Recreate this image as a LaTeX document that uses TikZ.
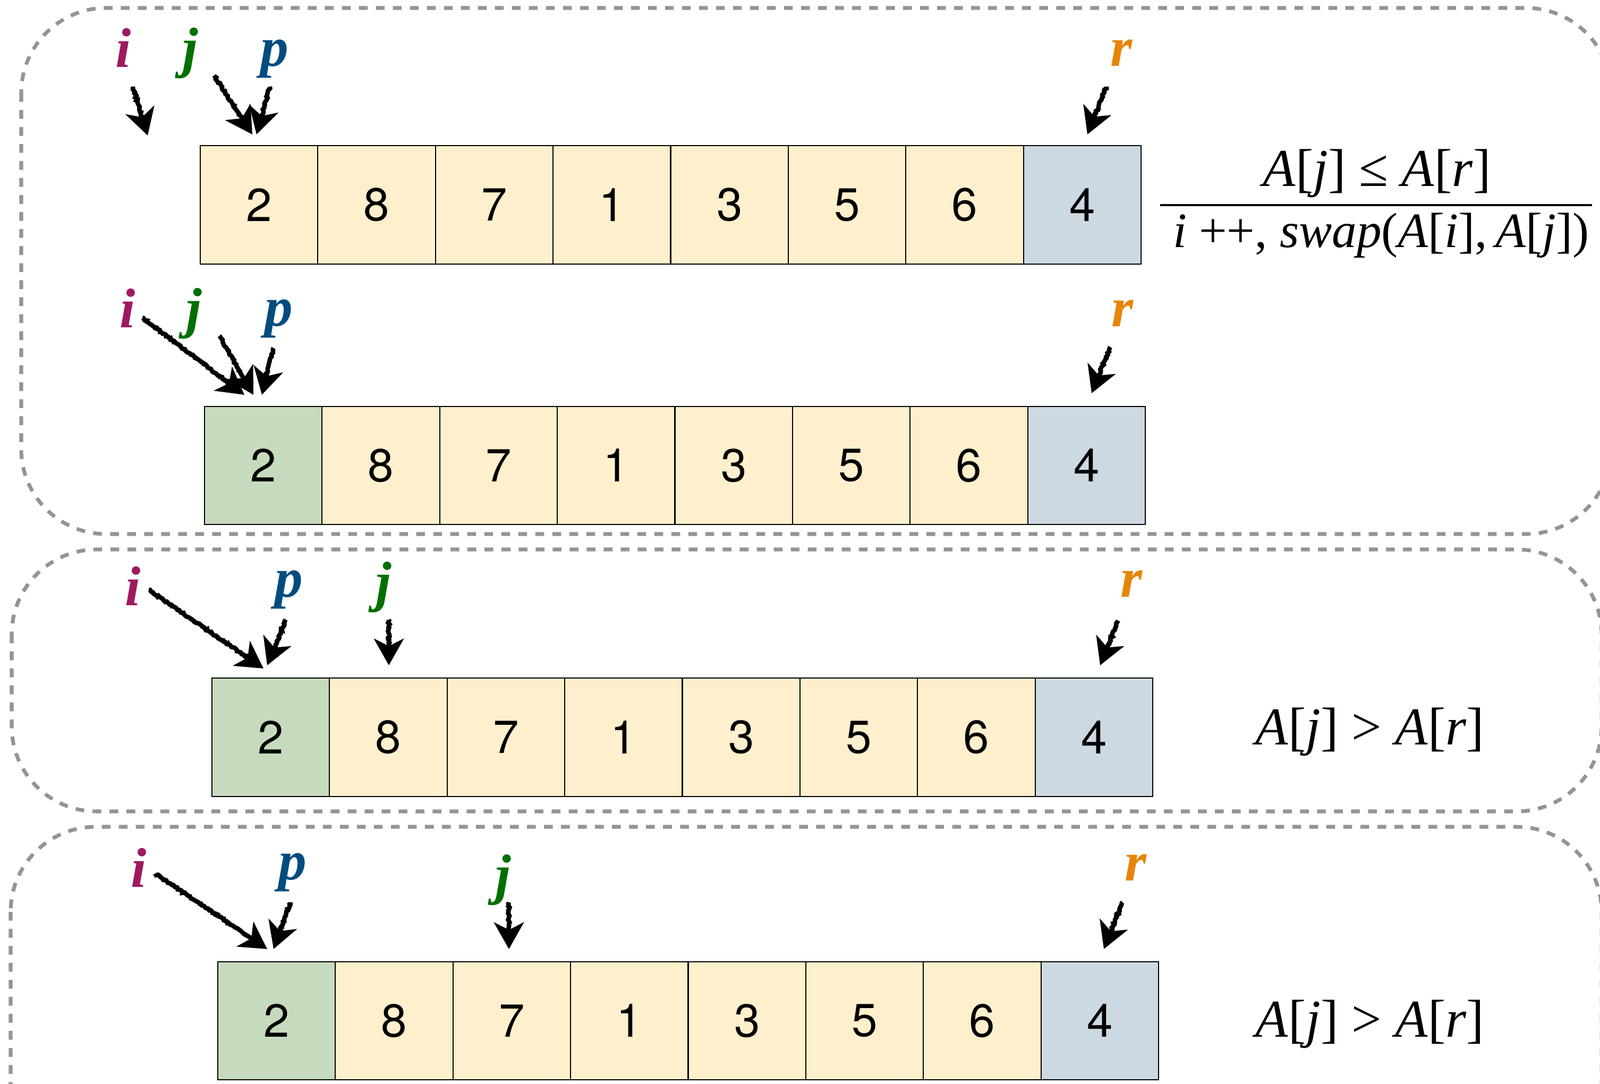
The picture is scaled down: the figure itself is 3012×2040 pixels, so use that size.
\documentclass[tikz,border=0pt]{standalone}
\usepackage{fontspec}
\setmainfont{Liberation Serif}
\newfontfamily\numfont{TeX Gyre Heros}
\usetikzlibrary{arrows.meta,decorations.pathmorphing}
\definecolor{yel}{HTML}{FEF0CD}
\definecolor{grn}{HTML}{C6DBBE}
\definecolor{blu}{HTML}{CDD9E2}
\definecolor{boxgray}{HTML}{949494}
\definecolor{ci}{HTML}{9E1A60}
\definecolor{cj}{HTML}{007000}
\definecolor{cp}{HTML}{004C7F}
\definecolor{cr}{HTML}{E5860A}
\begin{document}
\begin{tikzpicture}[x=0.01cm,y=-0.01cm,
  cell/.style={draw=black, line width=0.6pt, minimum width=2.214cm, minimum height=2.22cm, inner sep=0pt, font=\numfont\fontsize{24.8}{30}\selectfont},
  lbl/.style={inner sep=0pt, font=\fontsize{30}{36}\selectfont\bfseries\itshape},
  frame/.style={draw=boxgray, line width=2pt, dash pattern=on 0.165cm off 0.155cm, rounded corners=1.6cm},
  ptr/.style={draw=black, line width=2.4pt, -{Stealth[length=0.5cm,width=0.56cm,inset=0.14cm]}, decorate, decoration={random steps, segment length=0.8pt, amplitude=0.45pt, post length=0.35cm}},
  eq/.style={inner sep=0pt, font=\fontsize{28.5}{34}\selectfont},
  eqs/.style={inner sep=0pt, font=\fontsize{26.5}{32}\selectfont}]
\useasboundingbox (0,0) rectangle (3012,2040);
\clip (0,0) rectangle (3012,2040);

% dashed frames
\draw[frame] (40,15) rectangle (3033,1005);
\draw[frame] (22,1034) rectangle (3015,1527);
\draw[frame] (20,1556) rectangle (3015,2200);

% arrays
\foreach \v/\f [count=\k from 0] in {2/yel,8/yel,7/yel,1/yel,3/yel,5/yel,6/yel,4/blu}
  \node[cell, fill=\f] (a\k) at ({377+221.4*(\k+0.5)},385.5) {\v};
\foreach \v/\f [count=\k from 0] in {2/grn,8/yel,7/yel,1/yel,3/yel,5/yel,6/yel,4/blu}
  \node[cell, fill=\f] (b\k) at ({385+221.4*(\k+0.5)},876) {\v};
\foreach \v/\f [count=\k from 0] in {2/grn,8/yel,7/yel,1/yel,3/yel,5/yel,6/yel,4/blu}
  \node[cell, fill=\f] (c\k) at ({399+221.4*(\k+0.5)},1387.5) {\v};
\foreach \v/\f [count=\k from 0] in {2/grn,8/yel,7/yel,1/yel,3/yel,5/yel,6/yel,4/blu}
  \node[cell, fill=\f] (d\k) at ({410+221.4*(\k+0.5)},1921) {\v};

% row 1 labels and pointers
\node[lbl, text=ci] (i1) at (232,90) {i};
\node[lbl, text=cj] (j1) at (358,100) {j};
\node[lbl, text=cp] (p1) at (517,111) {p};
\node[lbl, text=cr] (r1) at (2111,100) {r};
\coordinate (si1) at (250,163); \coordinate (ti1) at (278,255);
\coordinate (sj1) at (403,142); \coordinate (tj1) at (475,253);
\coordinate (sp1) at (508,163); \coordinate (tp1) at (483,253);
\coordinate (sr1) at (2083,163); \coordinate (tr1) at (2047,253);
\draw[ptr] (si1) -- (ti1);
\draw[ptr] (sj1) -- (tj1);
\draw[ptr] (sp1) -- (tp1);
\draw[ptr] (sr1) -- (tr1);

% row 2
\node[lbl, text=ci] (i2) at (240,580) {i};
\node[lbl, text=cj] (j2) at (365,590) {j};
\node[lbl, text=cp] (p2) at (525,600) {p};
\node[lbl, text=cr] (r2) at (2113,590) {r};
\coordinate (si2) at (268,598); \coordinate (ti2) at (460,743);
\coordinate (sj2) at (413,632); \coordinate (tj2) at (477,743);
\coordinate (sp2) at (515,655); \coordinate (tp2) at (493,743);
\coordinate (sr2) at (2090,653); \coordinate (tr2) at (2055,740);
\draw[ptr] (si2) -- (ti2);
\draw[ptr] (sj2) -- (tj2);
\draw[ptr] (sp2) -- (tp2);
\draw[ptr] (sr2) -- (tr2);

% row 3
\node[lbl, text=ci] (i3) at (250,1103) {i};
\node[lbl, text=cp] (p3) at (544,1110) {p};
\node[lbl, text=cj] (j3) at (722,1105) {j};
\node[lbl, text=cr] (r3) at (2130,1099) {r};
\coordinate (si3) at (280,1110); \coordinate (ti3) at (496,1258);
\coordinate (sp3) at (538,1166); \coordinate (tp3) at (503,1252);
\coordinate (sj3) at (732,1166); \coordinate (tj3) at (732,1252);
\coordinate (sr3) at (2105,1168); \coordinate (tr3) at (2071,1252);
\draw[ptr] (si3) -- (ti3);
\draw[ptr] (sp3) -- (tp3);
\draw[ptr] (sj3) -- (tj3);
\draw[ptr] (sr3) -- (tr3);

% row 4
\node[lbl, text=ci] (i4) at (261,1633) {i};
\node[lbl, text=cp] (p4) at (551,1642) {p};
\node[lbl, text=cj] (j4) at (947,1656) {j};
\node[lbl, text=cr] (r4) at (2138,1633) {r};
\coordinate (si4) at (292,1644); \coordinate (ti4) at (503,1786);
\coordinate (sp4) at (547,1698); \coordinate (tp4) at (515,1786);
\coordinate (sj4) at (958,1698); \coordinate (tj4) at (958,1786);
\coordinate (sr4) at (2113,1698); \coordinate (tr4) at (2078,1786);
\draw[ptr] (si4) -- (ti4);
\draw[ptr] (sp4) -- (tp4);
\draw[ptr] (sj4) -- (tj4);
\draw[ptr] (sr4) -- (tr4);

% conditions
\node[eq] (num1) at (2592,326) {\textit{A}[\textit{j}] ≤ \textit{A}[\textit{r}]};
\draw[line width=1.3pt] (2184,386) -- (2997,386);
\node[eqs] (den1) at (2600,443) {\textit{i} ++, \textit{swap}(\textit{A}[\textit{i}],\,\textit{A}[\textit{j}])};
\node[eq] (cond3) at (2579,1377) {\textit{A}[\textit{j}] > \textit{A}[\textit{r}]};
\node[eq] (cond4) at (2579,1927) {\textit{A}[\textit{j}] > \textit{A}[\textit{r}]};
\end{tikzpicture}
\end{document}
